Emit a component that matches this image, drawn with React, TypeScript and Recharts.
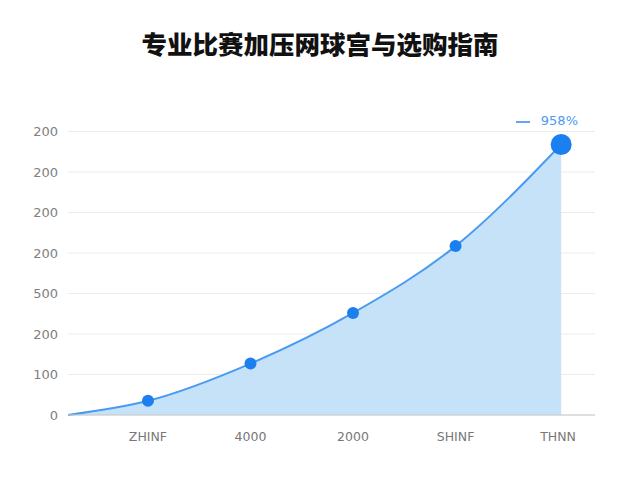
import { AreaChart, Area, XAxis, YAxis, CartesianGrid, Legend } from "recharts";

const title = "专业比赛加压网球宫与选购指南";
const seriesName = "958%";

const xPositions = [0.22, 1, 2, 3, 4, 5.03];
const seriesValues = [0, 0.35, 1.27, 2.52, 4.17, 6.68];

const xTicks = [1, 2, 3, 4, 5];
const xTickLabels = ["ZHINF", "4000", "2000", "SHINF", "THNN"];

const yTicks = [0, 1, 2, 3, 4, 5, 6, 7];
const yTickLabels = ["0", "100", "200", "500", "200", "200", "200", "200"];

const data = xPositions.map((x, i) => ({ x, value: seriesValues[i] }));

const renderDot = (props: any) => {
  const { cx, cy, index } = props;
  if (index === 0) return <g key={`dot-${index}`} />;
  const last = index === data.length - 1;
  return <circle key={`dot-${index}`} cx={cx} cy={cy} r={last ? 10.5 : 6} fill="#1b7ff0" stroke="none" />;
};

export default function App() {
  return (
    <div style={{ position: "absolute", left: 0, top: 0, width: 640, height: 480, background: "#fff" }}>
      <div
        style={{
          position: "absolute",
          top: 25,
          left: 0,
          width: 640,
          textAlign: "center",
          fontFamily: "'Noto Sans CJK SC', sans-serif",
          fontWeight: 900,
          fontSize: 25.5,
          lineHeight: "36px",
          color: "#111",
        }}
      >
        {title}
      </div>
      <AreaChart width={640} height={480} data={data} margin={{ top: 116, right: 45, bottom: 35, left: 8 }}>
        <CartesianGrid vertical={false} stroke="#ececec" />
        <XAxis
          dataKey="x"
          type="number"
          domain={[0.22, 5.36]}
          ticks={xTicks}
          tickFormatter={(v: number) => xTickLabels[xTicks.indexOf(v)] ?? ""}
          axisLine={{ stroke: "#c8c8c8" }}
          tickLine={false}
          tickMargin={11}
          height={30}
          tick={{ fontSize: 12.5, fill: "#777", fontFamily: "'DejaVu Sans', sans-serif" }}
        />
        <YAxis
          type="number"
          domain={[0, 7]}
          ticks={yTicks}
          tickFormatter={(v: number) => yTickLabels[v] ?? ""}
          axisLine={false}
          tickLine={false}
          tickMargin={4}
          width={60}
          tick={{ fontSize: 13, fill: "#808080", fontFamily: "'DejaVu Sans', sans-serif" }}
        />
        <Legend
          verticalAlign="top"
          align="right"
          iconType="plainline"
          iconSize={14}
          formatter={(value: string) => <span style={{ paddingLeft: 7 }}>{value}</span>}
          wrapperStyle={{ top: 113, right: 52, left: "auto", width: "auto", fontSize: 13, fontFamily: "'DejaVu Sans', sans-serif" }}
        />
        <Area
          type="monotone"
          dataKey="value"
          name={seriesName}
          stroke="#4a9bef"
          strokeWidth={2}
          fill="#c5e2f9"
          fillOpacity={1}
          dot={renderDot}
          activeDot={false}
          isAnimationActive={false}
        />
      </AreaChart>
    </div>
  );
}
